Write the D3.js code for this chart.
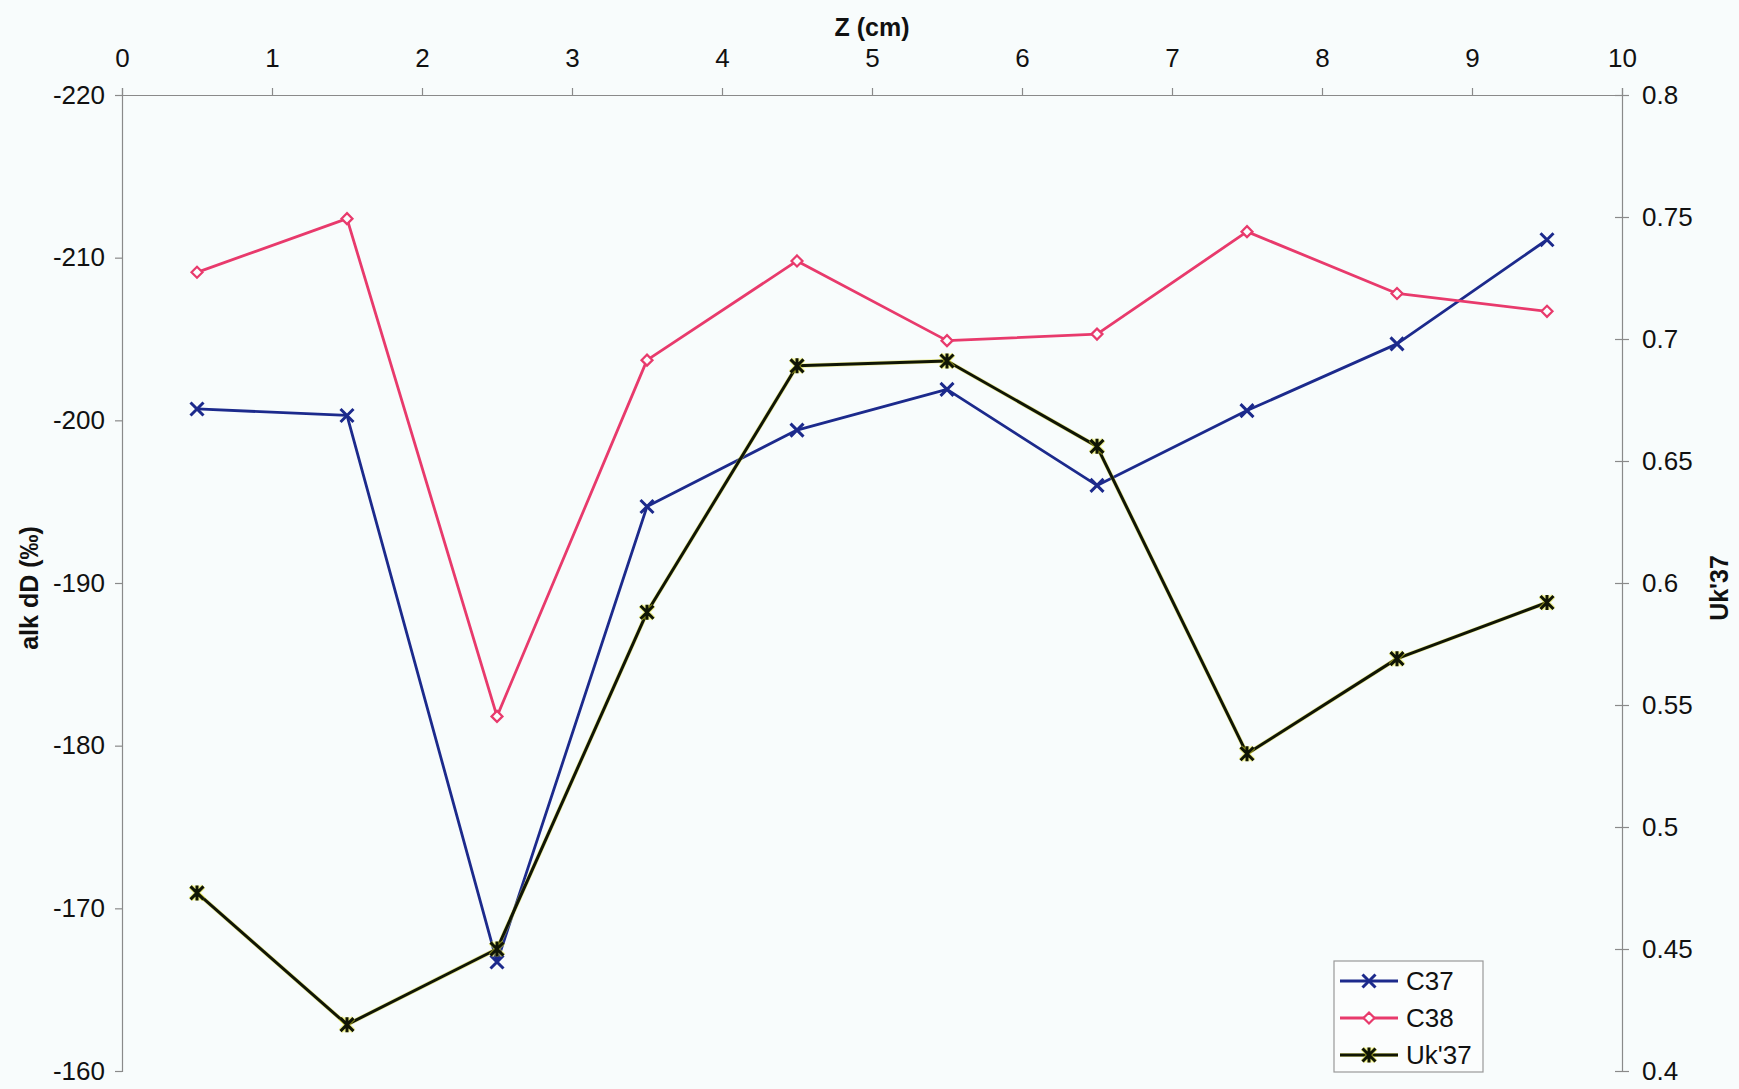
<!DOCTYPE html>
<html>
<head>
<meta charset="utf-8">
<script src="https://cdn.jsdelivr.net/npm/d3@7"></script>
<style>
  html, body { margin: 0; padding: 0; background: #f8fcfc; }
  svg { display: block; font-family: "Liberation Sans", Arial, sans-serif; }
</style>
</head>
<body>
<svg id="chart" width="1739" height="1089"></svg>
<script>
// Sample depths (cm, mid-points of 1 cm slices)
const depth = [0.5, 1.5, 2.5, 3.5, 4.5, 5.5, 6.5, 7.5, 8.5, 9.5];
// Alkenone dD (‰) for C37 and C38
const c37 = [-200.7, -200.3, -166.7, -194.7, -199.4, -201.9, -196.0, -200.6, -204.7, -211.1];
const c38 = [-209.1, -212.4, -181.8, -203.7, -209.8, -204.9, -205.3, -211.6, -207.8, -206.7];
// Uk'37 index (right axis)
const uk37 = [0.473, 0.419, 0.450, 0.588, 0.689, 0.691, 0.656, 0.530, 0.569, 0.592];

const xTicks = [0, 1, 2, 3, 4, 5, 6, 7, 8, 9, 10];
const yLeftTicks = [-220, -210, -200, -190, -180, -170, -160];
const yRightTicks = [0.8, 0.75, 0.7, 0.65, 0.6, 0.55, 0.5, 0.45, 0.4];

const m = { left: 122, right: 1622, top: 95, bottom: 1071 };
const svg = d3.select("#chart");

const x = d3.scaleLinear().domain([0, 10]).range([m.left, m.right]);
const yL = d3.scaleLinear().domain([-220, -160]).range([m.top, m.bottom]);
const yR = d3.scaleLinear().domain([0.8, 0.4]).range([m.top, m.bottom]);

const axisColor = "#8a8a8a";
const fontSize = 26;

function styleAxis(g) {
  g.select(".domain").attr("stroke", axisColor).attr("stroke-width", 1.2);
  g.selectAll(".tick line").attr("stroke", axisColor).attr("stroke-width", 1.2);
  g.selectAll(".tick text").attr("fill", "#111").style("font-size", fontSize + "px");
}

// Top axis
svg.append("g")
  .attr("transform", `translate(0,${m.top})`)
  .call(d3.axisTop(x).tickValues(xTicks).tickFormat(d => String(d)).tickSizeOuter(0).tickSize(7).tickPadding(21))
  .call(styleAxis);

// Left axis (plain hyphen for negative numbers)
svg.append("g")
  .attr("transform", `translate(${m.left},0)`)
  .call(d3.axisLeft(yL).tickValues(yLeftTicks).tickFormat(d => String(d)).tickSizeOuter(0).tickSize(7).tickPadding(10))
  .call(styleAxis);

// Right axis with ticks crossing the line
const gR = svg.append("g")
  .attr("transform", `translate(${m.right},0)`)
  .call(d3.axisRight(yR).tickValues(yRightTicks).tickFormat(d => String(+d.toFixed(2))).tickSizeOuter(0).tickSize(7).tickPadding(13))
  .call(styleAxis);
gR.selectAll(".tick line").attr("x1", -7);

// Axis titles
svg.append("text")
  .attr("x", x(5))
  .attr("y", 36)
  .attr("text-anchor", "middle")
  .style("font-size", "25px").style("font-weight", "bold")
  .attr("fill", "#111")
  .text("Z (cm)");

svg.append("text")
  .attr("transform", `translate(38,${(m.top + m.bottom) / 2 + 5}) rotate(-90)`)
  .attr("text-anchor", "middle")
  .style("font-size", "25px").style("font-weight", "bold")
  .attr("fill", "#111")
  .text("alk dD (‰)");

svg.append("text")
  .attr("transform", `translate(1728,${(m.top + m.bottom) / 2 + 5}) rotate(-90)`)
  .attr("text-anchor", "middle")
  .style("font-size", "25px").style("font-weight", "bold")
  .attr("fill", "#111")
  .text("Uk'37");

// Marker shapes
function drawMarker(g, type, cx, cy, color) {
  if (type === "x") {
    const s = 6.5;
    g.append("path")
      .attr("d", `M${cx - s},${cy - s}L${cx + s},${cy + s}M${cx - s},${cy + s}L${cx + s},${cy - s}`)
      .attr("stroke", color).attr("stroke-width", 3).attr("fill", "none");
  } else if (type === "diamond") {
    const s = 5.5;
    g.append("path")
      .attr("d", `M${cx},${cy - s}L${cx + s},${cy}L${cx},${cy + s}L${cx - s},${cy}Z`)
      .attr("stroke", color).attr("stroke-width", 2.2).attr("fill", "#fbfdfd");
  } else if (type === "star") {
    const s = 6.5;
    const d = `M${cx - s},${cy - s}L${cx + s},${cy + s}M${cx - s},${cy + s}L${cx + s},${cy - s}M${cx},${cy - s - 1}L${cx},${cy + s + 1}`;
    g.append("path").attr("d", d).attr("stroke", "#e4e22a").attr("stroke-width", 5).attr("fill", "none").attr("opacity", 0.55);
    g.append("path").attr("d", d).attr("stroke", color).attr("stroke-width", 3).attr("fill", "none");
  }
}

const series = [
  { name: "C37", values: c37, scale: yL, color: "#1c2a8c", marker: "x" },
  { name: "C38", values: c38, scale: yL, color: "#e83a6c", marker: "diamond" },
  { name: "Uk'37", values: uk37, scale: yR, color: "#101505", marker: "star", halo: "#e0de30" }
];

const plot = svg.append("g");
series.forEach(s => {
  const line = d3.line().x((d, i) => x(depth[i])).y(d => s.scale(d));
  if (s.halo) {
    plot.append("path").datum(s.values).attr("d", line)
      .attr("fill", "none").attr("stroke", s.halo).attr("stroke-width", 4.2)
      .attr("stroke-linejoin", "round").attr("opacity", 0.5);
  }
  plot.append("path").datum(s.values).attr("d", line)
    .attr("fill", "none").attr("stroke", s.color).attr("stroke-width", s.halo ? 3 : 2.8)
    .attr("stroke-linejoin", "round");
});
series.forEach(s => {
  const g = plot.append("g");
  s.values.forEach((v, i) => drawMarker(g, s.marker, x(depth[i]), s.scale(v), s.color));
});

// Legend
const lg = svg.append("g").attr("transform", "translate(1334,961)");
lg.append("rect").attr("width", 149).attr("height", 111)
  .attr("fill", "#fbfdfd").attr("stroke", "#999").attr("stroke-width", 1.2);
series.forEach((s, i) => {
  const cy = 20 + i * 37;
  if (s.halo) {
    lg.append("line").attr("x1", 6).attr("x2", 64).attr("y1", cy).attr("y2", cy)
      .attr("stroke", s.halo).attr("stroke-width", 4.2).attr("opacity", 0.5);
  }
  lg.append("line").attr("x1", 6).attr("x2", 64).attr("y1", cy).attr("y2", cy)
    .attr("stroke", s.color).attr("stroke-width", 2.8);
  drawMarker(lg, s.marker, 35, cy, s.color);
  lg.append("text").attr("x", 72).attr("y", cy + 9)
    .style("font-size", "26px").attr("fill", "#111").text(s.name);
});
</script>
</body>
</html>
